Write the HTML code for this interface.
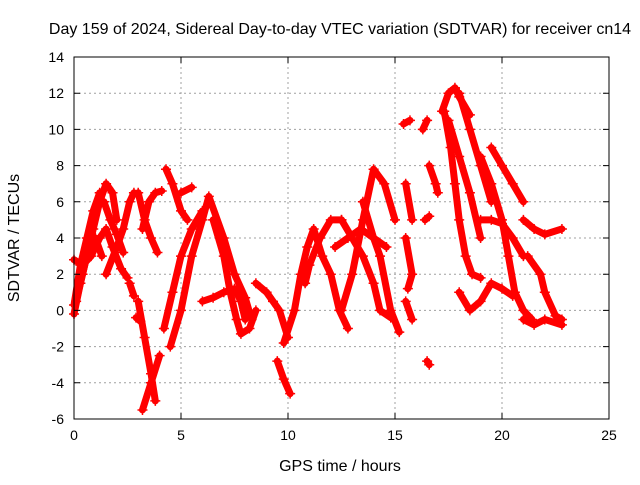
<!DOCTYPE html>
<html><head><meta charset="utf-8"><style>
body{margin:0;background:#fff}
svg text{font-family:"Liberation Sans",sans-serif;font-size:14px;fill:#000}
svg text.big{font-size:16px}
</style></head><body>
<svg width="640" height="480" xmlns="http://www.w3.org/2000/svg">
<text class="big" x="340" y="34" text-anchor="middle">Day 159 of 2024, Sidereal Day-to-day VTEC variation (SDTVAR) for receiver cn14</text>
<g id="grid"></g>
<g id="marks"></g>
<rect x="74" y="57" width="535" height="362" fill="none" stroke="#000"/>
<g id="ticks"></g>
<text class="big" x="340" y="471" text-anchor="middle">GPS time / hours</text>
<text class="big" transform="translate(19,238) rotate(-90)" text-anchor="middle">SDTVAR / TECUs</text>
</svg>
<script>
const xTicks=[0,5,10,15,20,25];
const yTicks=[-6,-4,-2,0,2,4,6,8,10,12,14];
const tracks=[
[[0,-0.2],[0.3,1.5],[0.6,3],[0.9,4.5],[1.2,6],[1.5,7],[1.8,6.5],[2,5]],
[[0,2.8],[0.4,2.5],[0.8,3],[1.2,4],[1.5,4.5],[1.8,3.5],[2.2,2.3],[2.5,1.8]],
[[0.1,0.5],[0.4,2],[0.7,3.5],[1,4],[1.3,3]],
[[0,0.3],[0.3,2.5],[0.6,4],[0.9,5.5],[1.2,6.5]],
[[1.5,2],[2,3.5],[2.3,4.5],[2.6,6],[2.8,6.5]],
[[1.4,6],[1.7,5],[2,4.2],[2.3,3.2]],
[[2.6,1.5],[2.8,0.8]],
[[2.9,-0.4],[3.1,-0.6]],
[[3,6.5],[3.3,5],[3.6,4],[3.9,3.2]],
[[3.2,4.5],[3.5,6],[3.8,6.5],[4.1,6.6]],
[[3,0.5],[3.3,-1.5],[3.6,-3.5],[3.8,-5]],
[[3.2,-5.5],[3.6,-4],[4,-2.5]],
[[4.3,7.8],[4.6,7],[5,5.5],[5.3,5]],
[[5,6.5],[5.5,6.8]],
[[4.5,-2],[5,0],[5.5,3],[6,5],[6.3,6.3],[7,4],[7.5,2],[8,0.7],[8.3,-0.5]],
[[4.2,-1],[4.6,1],[5,3],[5.5,4.5],[6,5.5]],
[[6,0.5],[6.5,0.7],[7,1],[7.5,1.2],[7.8,0.5],[8,-0.5]],
[[6.5,5],[7,3],[7.3,1],[7.6,-0.5],[7.8,-1.3],[8.2,-1],[8.5,0]],
[[8.5,1.5],[9,1],[9.3,0.5],[9.6,0],[10,-1.5]],
[[9.5,-2.8],[9.8,-3.8],[10.1,-4.6]],
[[9.8,-1.8],[10.3,0],[10.6,2],[10.9,3.5],[11.2,4.5],[11.6,3],[12,2],[12.4,0],[12.8,-1]],
[[10.8,1.5],[11,2.5],[11.5,4],[12,5],[12.5,5]],
[[12.5,0],[13,2],[13.5,5],[14,7.8],[14.5,7],[15,5]],
[[13.5,6],[14,4],[14.3,3],[14.8,0],[15.2,-1.2]],
[[12.5,5],[13,4],[13.5,3],[14,1.5],[14.3,0],[14.8,-0.4]],
[[12.2,3.5],[12.8,4],[13.4,4.5],[14,4],[14.6,3.5]],
[[15.4,10.3],[15.7,10.5]],
[[15.5,7],[15.8,5]],
[[15.5,4],[15.8,2],[15.6,1.2]],
[[15.5,0.5],[15.8,-0.5]],
[[16.5,-2.8],[16.6,-3]],
[[16.3,10],[16.5,10.5]],
[[16.6,8],[16.9,7],[17,6.5]],
[[16.4,5],[16.6,5.2]],
[[17.2,11],[17.5,12],[17.8,12.3],[18,11.8],[18.5,10.8]],
[[17.3,11],[17.6,9],[17.8,7],[18,5],[18.3,3],[18.6,2],[19,1.8]],
[[17.5,10.5],[18,8.5],[18.5,6.5],[19,4]],
[[18,12],[18.5,10],[19,8],[19.5,6]],
[[19,8.5],[19.5,7],[20,5],[20.3,3],[20.6,1],[21,0],[21.4,-0.5]],
[[19.5,9],[20,8],[20.5,7],[21,6]],
[[18,1],[18.5,0],[19,0.5],[19.5,1.5],[20,1.2],[20.5,0.8]],
[[21,5],[21.5,4.5],[22,4.2],[22.8,4.5]],
[[21.2,3],[21.8,2],[22,1],[22.5,-0.3],[22.8,-0.5]],
[[21,-0.5],[21.5,-0.8],[22,-0.5],[22.8,-0.8]],
[[19,5],[19.5,5],[20,4.8],[20.5,4],[21,3]]
];
const NS="http://www.w3.org/2000/svg";
const X0=74,X1=609,Y0=419,Y1=57;
function sx(h){return X0+(h-0)/(25-0)*(X1-X0);}
function sy(v){return Y0-(v+6)/(14+6)*(Y0-Y1);}
function mk(t,a){const e=document.createElementNS(NS,t);for(const k in a)e.setAttribute(k,a[k]);return e;}
const grid=document.getElementById('grid'),ticks=document.getElementById('ticks'),marks=document.getElementById('marks');
xTicks.forEach(t=>{const x=sx(t);
 if(t>0&&t<25){const l=mk('line',{x1:x,x2:x,y1:Y1,y2:Y0,stroke:'#a0a0a0','stroke-dasharray':'2,3'});
 
 grid.appendChild(l);}
 const tk=mk('path',{d:`M${x},${Y0}v-6M${x},${Y1}v6`,stroke:'#000'});
 
 ticks.appendChild(tk);
 const tx=mk('text',{x:x,y:Y0+21,'text-anchor':'middle'});tx.textContent=t;
 
 ticks.appendChild(tx);});
yTicks.forEach(t=>{const y=sy(t);
 if(t>-6&&t<14){const l=mk('line',{x1:X0,x2:X1,y1:y,y2:y,stroke:'#a0a0a0','stroke-dasharray':'2,3'});
 
 grid.appendChild(l);}
 const tk=mk('path',{d:`M${X0},${y}h6M${X1},${y}h-6`,stroke:'#000'});
 
 ticks.appendChild(tk);
 const tx=mk('text',{x:X0-10,y:y+5,'text-anchor':'end'});tx.textContent=t;
 
 ticks.appendChild(tx);});
tracks.forEach(tr=>{
 const pl=mk('polyline',{points:tr.map(p=>sx(p[0])+','+sy(p[1])).join(' '),fill:'none',stroke:'#f00','stroke-width':7,'stroke-linejoin':'round','stroke-linecap':'round'});
 
 marks.appendChild(pl);
 tr.forEach(p=>{const x=sx(p[0]),y=sy(p[1]);
  const m=mk('path',{d:`M${x-5},${y}h10M${x},${y-5}v10`,stroke:'#f00','stroke-width':1.5});
  
  marks.appendChild(m);});
});
</script>
</body></html>
